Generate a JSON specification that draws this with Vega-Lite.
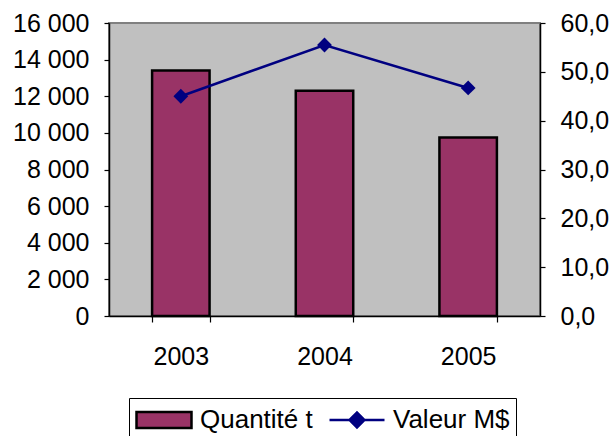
{
  "$schema": "https://vega.github.io/schema/vega-lite/v6.json",
  "width": 431,
  "height": 293,
  "autosize": {"type": "none"},
  "padding": {"left": 109, "top": 23, "right": 75, "bottom": 120},
  "background": "white",
  "config": {
    "font": "Liberation Sans",
    "view": {"fill": "#C0C0C0", "stroke": "#808080", "strokeWidth": 2},
    "axis": {
      "labelFont": "Liberation Sans",
      "labelFontSize": 25,
      "labelColor": "black",
      "domainColor": "black",
      "domainWidth": 1.5,
      "tickColor": "black",
      "tickWidth": 1.2,
      "grid": false,
      "title": null
    },
    "legend": {
      "title": null,
      "orient": "none",
      "legendX": 20,
      "legendY": 375,
      "direction": "horizontal",
      "strokeColor": "black",
      "fillColor": "white",
      "padding": 6,
      "labelFont": "Liberation Sans",
      "labelFontSize": 26,
      "labelColor": "black",
      "labelOffset": 7,
      "symbolSize": 3025,
      "symbolOpacity": 1,
      "symbolStrokeWidth": 2.5,
      "clipHeight": 32,
      "columnPadding": 15
    }
  },
  "data": {
    "values": [
      {"year": "2003", "qty": 13400, "val": 45.0},
      {"year": "2004", "qty": 12300, "val": 55.5},
      {"year": "2005", "qty": 9750, "val": 46.7}
    ]
  },
  "encoding": {
    "x": {
      "field": "year",
      "type": "nominal",
      "scale": {"paddingInner": 0.6, "paddingOuter": 0.3},
      "axis": {"title": null, "labelAngle": 0, "tickBand": "extent", "tickSize": 6, "labelPadding": 22}
    }
  },
  "layer": [
    {
      "mark": {"type": "bar", "fill": "#993366", "stroke": "black", "strokeWidth": 2.5},
      "encoding": {
        "y": {
          "field": "qty",
          "type": "quantitative",
          "scale": {"domain": [0, 16000]},
          "axis": {
            "title": null,
            "values": [0, 2000, 4000, 6000, 8000, 10000, 12000, 14000, 16000],
            "labelExpr": "replace(format(datum.value, ','), ',', ' ')",
            "tickSize": 5,
            "labelPadding": 15
          }
        }
      }
    },
    {
      "mark": {"type": "line", "color": "#000080", "strokeWidth": 2.5, "point": {"shape": "diamond", "size": 220, "filled": true, "color": "#000080"}},
      "encoding": {
        "y": {
          "field": "val",
          "type": "quantitative",
          "scale": {"domain": [0, 60]},
          "axis": {
            "orient": "right",
            "title": null,
            "values": [0, 10, 20, 30, 40, 50, 60],
            "labelExpr": "replace(format(datum.value, '.1f'), '.', ',')",
            "tickSize": 5,
            "labelPadding": 15
          }
        }
      }
    },
    {
      "mark": {
        "type": "point",
        "opacity": 0,
        "filled": true,
        "fill": {"expr": "datum.value === 'Quantité t' ? '#993366' : '#000080'"},
        "stroke": {"expr": "datum.value === 'Quantité t' ? 'black' : '#000080'"},
        "strokeWidth": 2.5
      },
      "encoding": {
        "shape": {
          "datum": "Valeur M$",
          "type": "nominal",
          "scale": {
            "domain": ["Quantité t", "Valeur M$"],
            "range": ["M-1,-0.29H1V0.29H-1Z", "M-1,0H1M-0.27,0L0,-0.27L0.27,0L0,0.27Z"]
          }
        }
      }
    }
  ],
  "resolve": {"scale": {"y": "independent"}}
}
